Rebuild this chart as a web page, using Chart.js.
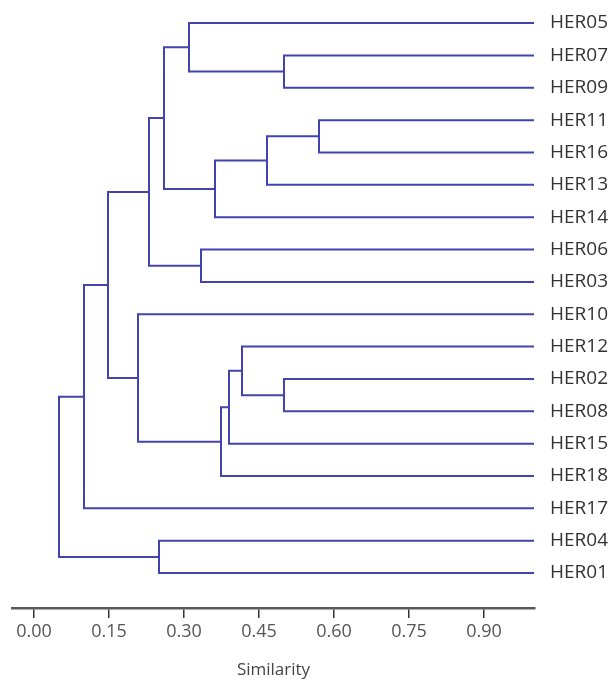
<!DOCTYPE html>
<html>
<head>
<meta charset="utf-8">
<script src="https://cdn.jsdelivr.net/npm/chart.js@4/dist/chart.umd.min.js"></script>
<style>
  html, body { margin: 0; padding: 0; background: #fff; }
</style>
</head>
<body>
<canvas id="dendro" width="611" height="682"></canvas>
<script>
// leaf order, top to bottom
var leaves = ["HER05", "HER07", "HER09", "HER11", "HER16", "HER13", "HER14", "HER06", "HER03",
              "HER10", "HER12", "HER02", "HER08", "HER15", "HER18", "HER17", "HER04", "HER01"];

// each join links two members: a leaf name or the index of an earlier join
var joinA = ["HER07", "HER05", "HER11", 2, 3, 1, "HER06", 5, "HER02", "HER12", 9, 10, "HER10", 7, 13, "HER04", 14];
var joinB = ["HER09", 0, "HER16", "HER13", "HER14", 4, "HER03", 6, "HER08", 8, "HER15", "HER18", 11, 12, "HER17", "HER01", 15];
var similarity = [0.50, 0.31, 0.57, 0.466, 0.362, 0.26, 0.334, 0.23, 0.50, 0.416, 0.39, 0.374, 0.208, 0.148, 0.10, 0.25, 0.05];

var xTicks = [0, 0.15, 0.30, 0.45, 0.60, 0.75, 0.90];
var leafSimilarity = 1.0;

var nodes = [];
function pos(m) {
    if (typeof m === "string") return {x: leafSimilarity, y: leaves.indexOf(m)};
    return nodes[m];
}

var lineColor = "#4343ad";
var datasets = [];
for (var k = 0; k < similarity.length; k++) {
    var a = pos(joinA[k]), b = pos(joinB[k]), s = similarity[k];
    nodes.push({x: s, y: (a.y + b.y) / 2});
    datasets.push({
        data: [{x: a.x, y: a.y}, {x: s, y: a.y}, {x: s, y: b.y}, {x: b.x, y: b.y}],
        showLine: true,
        borderColor: lineColor,
        borderWidth: 2,
        borderCapStyle: "butt",
        borderJoinStyle: "miter",
        pointRadius: 0,
        pointHoverRadius: 0
    });
}

var ctx = document.getElementById("dendro").getContext("2d");
var chart = new Chart(ctx, {
    type: "scatter",
    data: {datasets: datasets},
    options: {
        responsive: false,
        animation: false,
        events: [],
        layout: {padding: {left: 12, top: 4, right: 0, bottom: 0}},
        plugins: {legend: {display: false}, tooltip: {enabled: false}},
        scales: {
            x: {
                type: "linear",
                position: "bottom",
                min: -0.044,
                max: 1.002,
                afterBuildTicks: function (scale) {
                    scale.ticks = xTicks.map(function (v) { return {value: v}; });
                },
                afterFit: function (scale) { scale.height = 74; },
                grid: {drawOnChartArea: false, drawTicks: true, tickLength: 10, color: "#333", lineWidth: 1.5},
                border: {display: true, color: "#5a5a5a", width: 2.5},
                ticks: {
                    padding: 3,
                    color: "#555",
                    font: {family: "Open Sans", size: 18},
                    maxRotation: 0,
                    callback: function (v) { return v.toFixed(2); }
                },
                title: {
                    display: true,
                    text: "Similarity",
                    color: "#444",
                    font: {family: "Open Sans", size: 17},
                    padding: {top: 0, bottom: 2}
                }
            },
            y: {
                type: "linear",
                position: "right",
                reverse: true,
                min: -0.59,
                max: 18.08,
                afterBuildTicks: function (scale) {
                    scale.ticks = leaves.map(function (n, i) { return {value: i}; });
                },
                afterFit: function (scale) {
                    scale.width = 76;
                    scale.paddingTop = 0;
                    scale.paddingBottom = 0;
                },
                grid: {display: false, drawTicks: false},
                border: {display: false},
                ticks: {
                    padding: 15,
                    color: "#333",
                    font: {family: "Open Sans", size: 19},
                    callback: function (v) { return leaves[v]; }
                }
            }
        }
    }
});
</script>
</body>
</html>
